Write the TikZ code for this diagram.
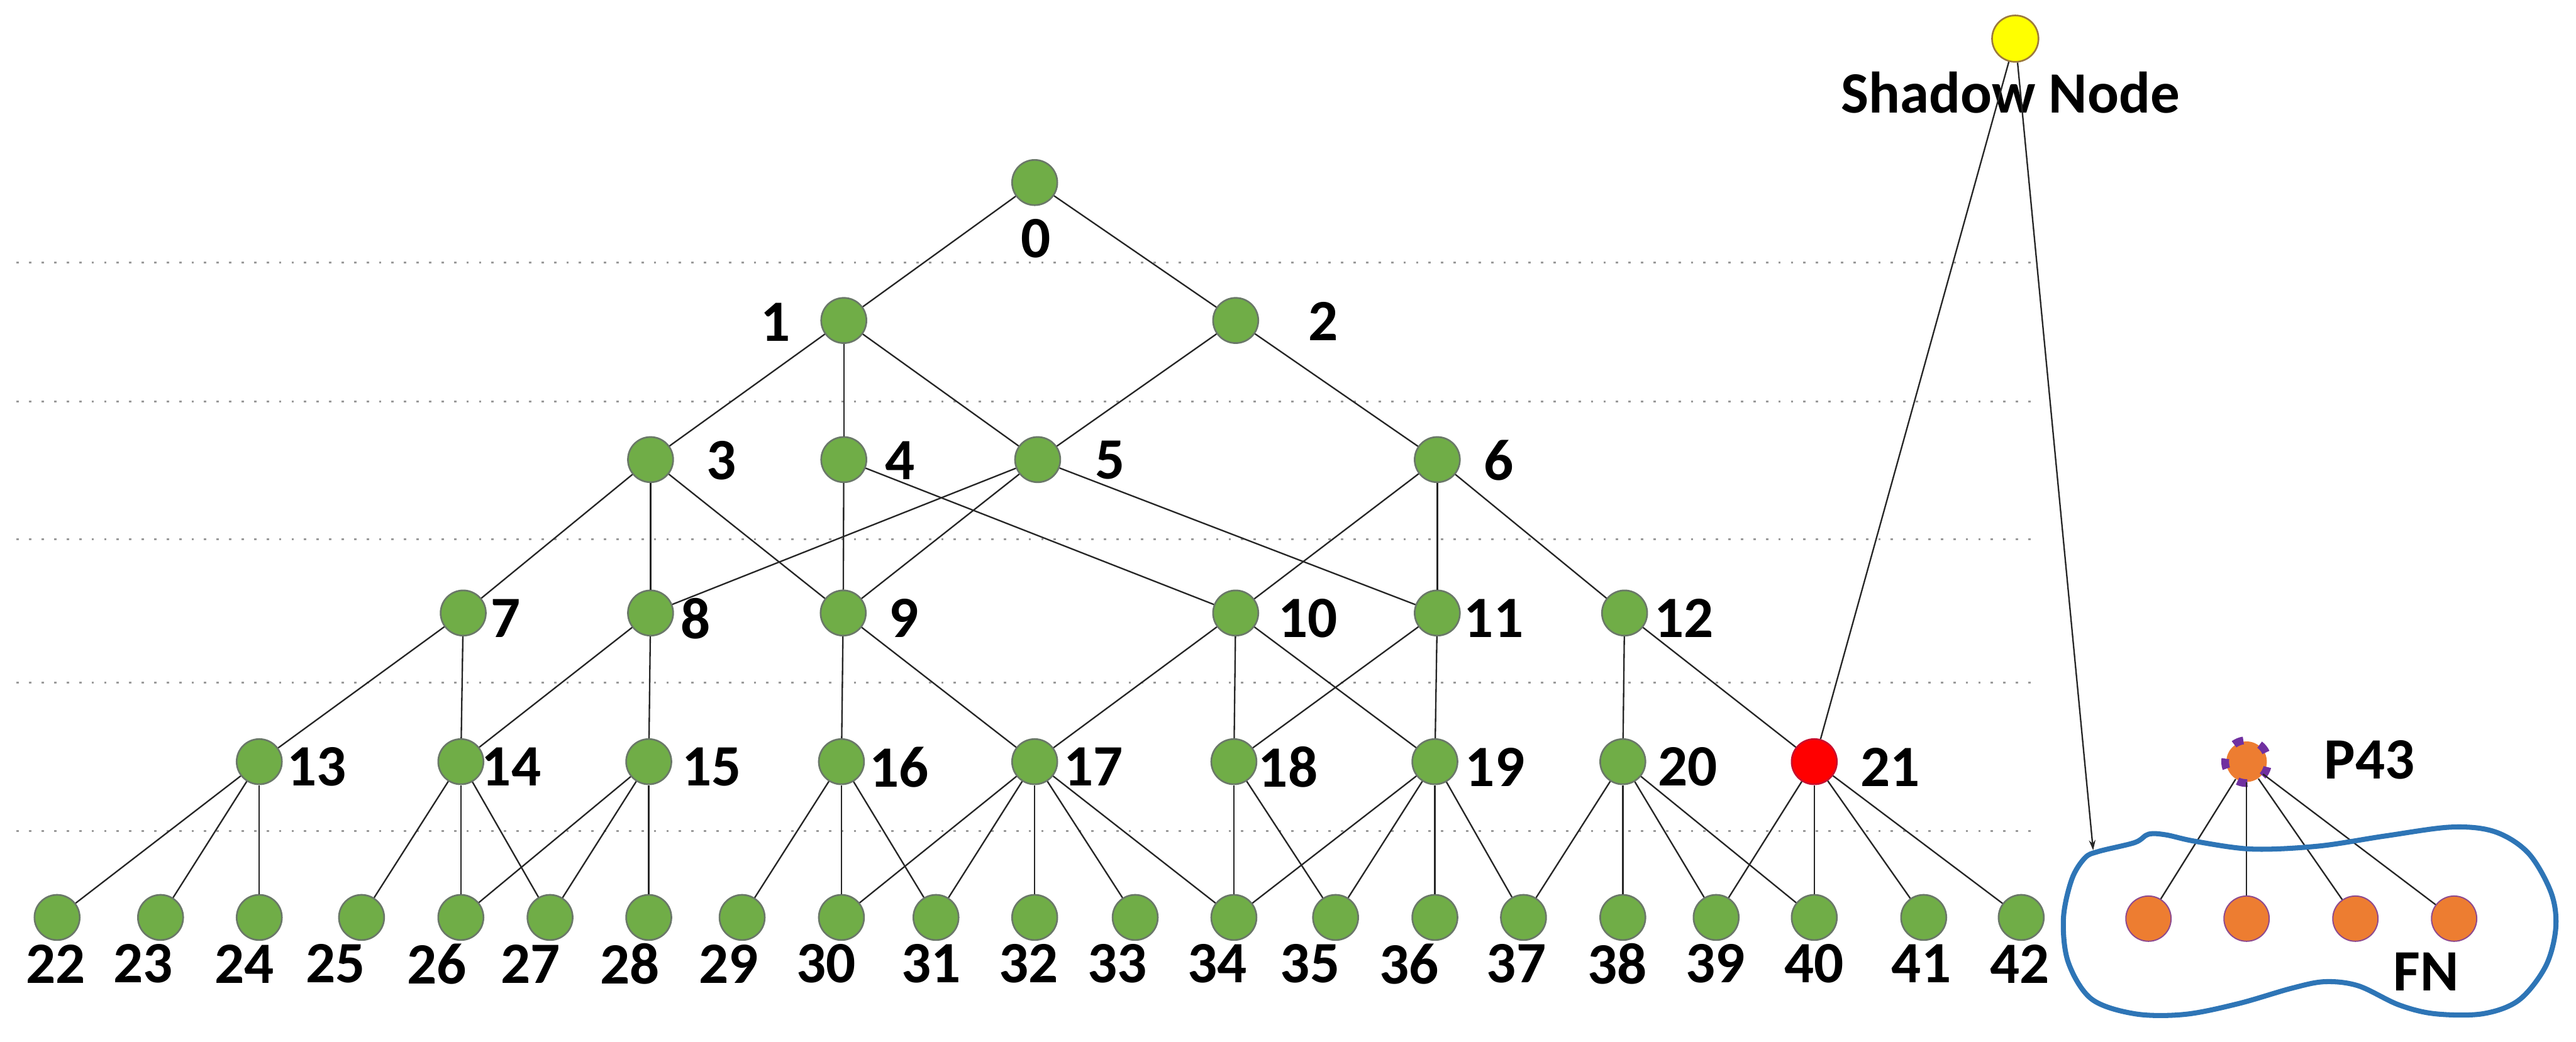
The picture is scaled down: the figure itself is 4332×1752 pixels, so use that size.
\documentclass[tikz,border=0pt]{standalone}
\usepackage{fontspec}
\setmainfont{Carlito}
\usetikzlibrary{arrows.meta}
\definecolor{ngreen}{HTML}{70AD47}
\definecolor{nline}{HTML}{6A7868}
\definecolor{nred}{HTML}{FF0000}
\definecolor{nredline}{HTML}{C8102E}
\definecolor{nyellow}{HTML}{FFFF00}
\definecolor{nyellowline}{HTML}{9C7A3C}
\definecolor{norange}{HTML}{ED7D31}
\definecolor{norangeline}{HTML}{8E4A8E}
\definecolor{npurple}{HTML}{7030A0}
\definecolor{blobblue}{HTML}{2E75B6}
\definecolor{dotgray}{HTML}{9A9A9A}
\begin{document}
\begin{tikzpicture}[x=0.01cm,y=-0.01cm,
  gn/.style={circle,fill=ngreen,draw=nline,line width=0.8pt,minimum size=0.76cm,inner sep=0pt},
  rn/.style={circle,fill=nred,draw=nredline,line width=0.8pt,minimum size=0.76cm,inner sep=0pt},
  yn/.style={circle,fill=nyellow,draw=nyellowline,line width=0.8pt,minimum size=0.78cm,inner sep=0pt},
  on/.style={circle,fill=norange,draw=norangeline,line width=0.6pt,minimum size=0.76cm,inner sep=0pt},
  pn/.style={circle,fill=norange,minimum size=0.68cm,inner sep=0pt},
  lab/.style={inner sep=0pt,font=\bfseries\fontsize{28}{30}\selectfont},
  edge/.style={line width=0.7pt,black!85},
  guide/.style={line width=0.03cm,dotgray,dash pattern=on 0.04cm off 0.17cm}]
\useasboundingbox (0,0) rectangle (4332,1752);
% dotted level guides
\foreach \gy in {442,675,907,1148,1398}
  \draw[guide] (28,\gy) -- (3415,\gy);
% tree nodes
\node[gn] (n0) at (1740,307) {};
\node[gn] (n1) at (1419,539) {};
\node[gn] (n2) at (2078,539) {};
\foreach \n/\x in {3/1094,4/1419,5/1745,6/2417}
  \node[gn] (n\n) at (\x,773) {};
\foreach \n/\x in {7/779,8/1094,9/1418,10/2078,11/2417,12/2732}
  \node[gn] (n\n) at (\x,1031) {};
\foreach \n/\x in {13/436,14/775,15/1091,16/1415,17/1740,18/2075,19/2413,20/2729}
  \node[gn] (n\n) at (\x,1281) {};
\node[rn] (n21) at (3051,1281) {};
\foreach \n/\x in {22/96,23/270,24/436,25/608,26/775,27/925,28/1091,29/1248,30/1415,31/1574,32/1740,33/1909,34/2075,35/2246,36/2413,37/2562,38/2729,39/2886,40/3051,41/3235,42/3399}
  \node[gn] (n\n) at (\x,1543) {};
% labels
\node[lab] (l0) at (1742,401) {0};
\node[lab] (l1) at (1304,542) {1};
\node[lab] (l2) at (2225,540) {2};
\foreach \n/\x in {3/1213,4/1514,5/1867,6/2520}
  \node[lab] (l\n) at (\x,774) {\n};
\foreach \n/\x in {7/850,8/1170,9/1520,10/2199,11/2512,12/2832}
  \node[lab] (l\n) at (\x,1040) {\n};
\foreach \n/\x in {13/533,14/860,15/1197,16/1512,17/1839,18/2166,19/2514,20/2838,21/3179}
  \node[lab] (l\n) at (\x,1290) {\n};
\foreach \n/\x in {22/94,23/241,24/411,25/564,26/735,27/892,28/1059,29/1225,30/1389,31/1566,32/1730,33/1879,34/2047,35/2203,36/2370,37/2550,38/2720,39/2885,40/3051,41/3231,42/3397}
  \node[lab] (l\n) at (\x,1621) {\n};
% tree edges
\foreach \a/\b in {0/1,0/2,1/3,1/4,1/5,2/5,2/6,3/7,3/8,3/9,4/9,4/10,5/8,5/9,5/11,6/10,6/11,6/12,
  7/13,7/14,8/14,8/15,9/16,9/17,10/17,10/18,10/19,11/18,11/19,12/20,12/21,
  13/22,13/23,13/24,14/25,14/26,14/27,15/26,15/27,15/28,16/29,16/30,16/31,
  17/30,17/31,17/32,17/33,17/34,18/34,18/35,19/34,19/35,19/36,19/37,
  20/37,20/38,20/39,20/40,21/39,21/40,21/41,21/42}
  \draw[edge] (n\a) -- (n\b);
% shadow node
\node[yn] (sh) at (3389,65) {};
\node[lab] (shl) at (3381,156) {Shadow Node};
\coordinate (fnin) at (3520,1430);
\draw[edge] (sh) -- (n21);
\draw[edge,-{Stealth[length=0.17cm,width=0.11cm]}] (sh) -- (fnin);
% P43 and FN
\node[pn] (p43) at (3778,1281) {};
\draw[npurple,line width=0.13cm,dash pattern=on 0.17cm off 0.29cm,dash phase=0.3cm]
  (p43.center) circle[radius=0.36cm];
\node[lab] (p43l) at (3985,1278) {P43};
\foreach \n/\x in {a/3613,b/3778,c/3961,d/4127}
  \node[on] (f\n) at (\x,1545) {};
\foreach \n in {a,b,c,d}
  \draw[edge] (p43) -- (f\n);
\draw[blobblue,line width=0.085cm] plot[smooth cycle,tension=0.55] coordinates {
  (3529,1432) (3590,1417) (3613,1403) (3642,1404) (3692,1415) (3787,1428) (3899,1423)
  (4011,1406) (4123,1391) (4196,1399) (4252,1435) (4290,1501) (4298,1560) (4281,1625)
  (4236,1682) (4175,1705) (4095,1705) (4034,1690) (3966,1658) (3910,1651) (3854,1662)
  (3764,1688) (3674,1706) (3590,1705) (3517,1680) (3478,1618) (3470,1545) (3484,1479)
  (3506,1443)};
\node[lab] (fnl) at (4080,1634) {FN};
\end{tikzpicture}
\end{document}
